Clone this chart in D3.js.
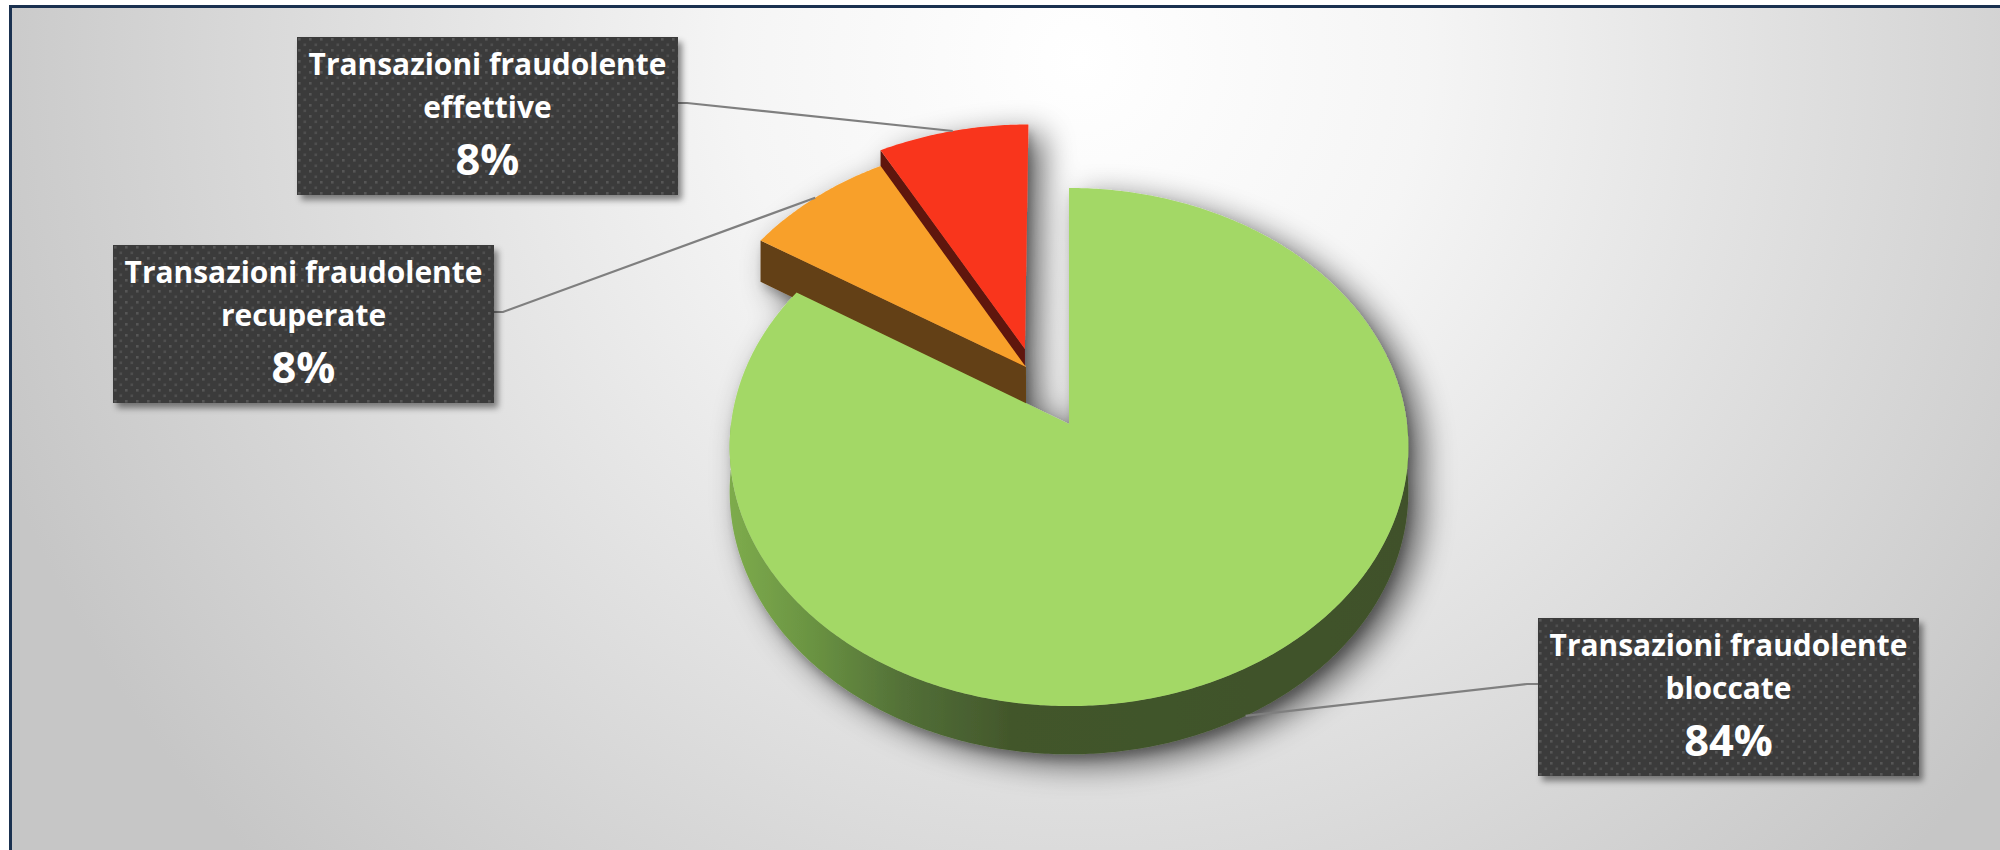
<!DOCTYPE html>
<html>
<head>
<meta charset="utf-8">
<script src="https://cdn.jsdelivr.net/npm/d3@7"></script>
<style>
  html, body { margin: 0; padding: 0; background: #ffffff; overflow: hidden; }
  #chart svg { display: block; }
</style>
</head>
<body>
<div id="chart"></div>
<script>
const width = 2000,
    height = 850;

// data
const categories = ["Transazioni fraudolente bloccate", "Transazioni fraudolente recuperate", "Transazioni fraudolente effettive"];
const values = [84, 8, 8];
const labelLines = [["Transazioni fraudolente", "bloccate"], ["Transazioni fraudolente", "recuperate"], ["Transazioni fraudolente", "effettive"]];
const percentLabels = ["84%", "8%", "8%"];

// style
const topColors = ["#a3d866", "#f8a02c", "#f9361c"];
const sideColors = ["url(#greenSide)", "#643f12", "#5e130b"];
// explosion offset of each slice, in pie-radius units (x right, y toward viewer)
const explode = [[0, 0], [-0.13, -0.226], [-0.134, -0.30]];
// where the leader line leaves the slice: 0 = top face rim, 1 = bottom of side
const leaderDepth = [1, 0, 0];
const boxes = [
    {x: 1538, y: 618, side: "left", ay: 684},
    {x: 113, y: 245, side: "right", ay: 312},
    {x: 297, y: 37, side: "right", ay: 103}
];
const boxW = 381, boxH = 158;
const labelFont = "'Open Sans', Lato, sans-serif";

// 3d pie projection
const cx = 1069, cy = 424, rx = 338, ry = 257, persp = 0.0888, depth = 44;

function proj(x, y, t) {
    const w = 1 - persp * y;
    return [cx + rx * x / w, cy + (ry * y + depth * t) / w];
}
function rimPoint(theta, e, t) {
    return proj(e[0] + Math.sin(theta), e[1] - Math.cos(theta), t);
}
function arcPoints(a0, a1, e, t) {
    const n = Math.max(2, Math.ceil(Math.abs(a1 - a0) / 0.01));
    return d3.range(n + 1).map(i => rimPoint(a0 + (a1 - a0) * i / n, e, t));
}

const svg = d3.select("#chart").append("svg")
    .attr("width", width)
    .attr("height", height);

const defs = svg.append("defs");

const bg = defs.append("radialGradient")
    .attr("id", "bgGrad")
    .attr("gradientUnits", "userSpaceOnUse")
    .attr("cx", 1080).attr("cy", 60).attr("r", 1150);
bg.append("stop").attr("offset", 0).attr("stop-color", "#ffffff");
bg.append("stop").attr("offset", 0.3).attr("stop-color", "#f5f5f5");
bg.append("stop").attr("offset", 1).attr("stop-color", "#c6c6c6");

const gs = defs.append("linearGradient")
    .attr("id", "greenSide")
    .attr("gradientUnits", "userSpaceOnUse")
    .attr("x1", cx - rx).attr("x2", cx + rx)
    .attr("y1", 0).attr("y2", 0);
[[0, "#7dab4c"], [0.12, "#6a9342"], [0.26, "#526f37"], [0.42, "#42562b"], [1, "#3f5129"]]
    .forEach(s => gs.append("stop").attr("offset", s[0]).attr("stop-color", s[1]));

const pat = defs.append("pattern")
    .attr("id", "dots")
    .attr("patternUnits", "userSpaceOnUse")
    .attr("width", 11).attr("height", 11);
pat.append("rect").attr("width", 11).attr("height", 11).attr("fill", "#3b3b3b");
pat.append("rect").attr("x", 1).attr("y", 1).attr("width", 2.6).attr("height", 2.6).attr("fill", "#575757");
pat.append("rect").attr("x", 6.5).attr("y", 6.5).attr("width", 2.6).attr("height", 2.6).attr("fill", "#4f4f4f");

const ps = defs.append("filter").attr("id", "pieShadow")
    .attr("x", "-20%").attr("y", "-20%").attr("width", "140%").attr("height", "140%");
ps.append("feGaussianBlur").attr("in", "SourceAlpha").attr("stdDeviation", 16).attr("result", "b1");
ps.append("feOffset").attr("in", "b1").attr("dx", 14).attr("dy", 10).attr("result", "o1");
ps.append("feComponentTransfer").attr("in", "o1").attr("result", "s1")
    .append("feFuncA").attr("type", "linear").attr("slope", 0.62);
ps.append("feGaussianBlur").attr("in", "SourceAlpha").attr("stdDeviation", 4).attr("result", "b2");
ps.append("feOffset").attr("in", "b2").attr("dx", 3).attr("dy", 6).attr("result", "o2");
ps.append("feComponentTransfer").attr("in", "o2").attr("result", "s2")
    .append("feFuncA").attr("type", "linear").attr("slope", 0.2);
const psm = ps.append("feMerge");
psm.append("feMergeNode").attr("in", "s1");
psm.append("feMergeNode").attr("in", "s2");
psm.append("feMergeNode").attr("in", "SourceGraphic");

const bs = defs.append("filter").attr("id", "boxShadow")
    .attr("x", "-10%").attr("y", "-10%").attr("width", "125%").attr("height", "130%");
bs.append("feDropShadow").attr("dx", 4).attr("dy", 5).attr("stdDeviation", 3)
    .attr("flood-color", "#000").attr("flood-opacity", 0.45);

// chart area
svg.append("rect")
    .attr("x", 10.5).attr("y", 6.5)
    .attr("width", width).attr("height", height)
    .attr("fill", "url(#bgGrad)")
    .attr("stroke", "#1a3150")
    .attr("stroke-width", 3);

const slices = d3.pie().sort(null).value(d => d)(values)
    .map((d, i) => ({...d, i: i, e: explode[i], mid: (d.startAngle + d.endAngle) / 2}));

// back to front
const order = slices.slice().sort((p, q) =>
    (p.e[1] - Math.cos(p.mid)) - (q.e[1] - Math.cos(q.mid)));

const line = d3.line();
const pieG = svg.append("g").attr("filter", "url(#pieShadow)");

order.forEach(s => {
    const g = pieG.append("g");
    const a0 = s.startAngle, a1 = s.endAngle;
    const apex0 = proj(s.e[0], s.e[1], 0), apex1 = proj(s.e[0], s.e[1], 1);

    // cut face at start angle
    if (Math.cos(a0 - Math.PI / 2) < -1e-6) {
        g.append("path")
            .attr("d", line([apex0, rimPoint(a0, s.e, 0), rimPoint(a0, s.e, 1), apex1]) + "Z")
            .attr("fill", sideColors[s.i]);
    }
    // cut face at end angle
    if (Math.cos(a1 + Math.PI / 2) < -1e-6) {
        g.append("path")
            .attr("d", line([apex0, rimPoint(a1, s.e, 0), rimPoint(a1, s.e, 1), apex1]) + "Z")
            .attr("fill", sideColors[s.i]);
    }
    // outer curved side, front half only
    const f0 = Math.max(a0, Math.PI / 2), f1 = Math.min(a1, 3 * Math.PI / 2);
    if (f1 > f0) {
        const pts = arcPoints(f0, f1, s.e, 0).concat(arcPoints(f1, f0, s.e, 1));
        g.append("path")
            .attr("d", line(pts) + "Z")
            .attr("fill", sideColors[s.i]);
    }
    // top face
    g.append("path")
        .attr("d", line([apex0].concat(arcPoints(a0, a1, s.e, 0))) + "Z")
        .attr("fill", topColors[s.i]);
});

// leader lines
slices.forEach(s => {
    const p0 = rimPoint(s.mid, s.e, leaderDepth[s.i]);
    const b = boxes[s.i];
    const bx = b.side === "left" ? b.x : b.x + boxW;
    const elbow = [b.side === "left" ? bx - 11 : bx + 9, b.ay];
    svg.append("path")
        .attr("d", line([p0, elbow, [bx, b.ay]]))
        .attr("fill", "none")
        .attr("stroke", "#7f7f7f")
        .attr("stroke-width", 2.2);
});

// size the label font so the first line spans ~358px, like the reference
const probe = svg.append("text")
    .style("font-family", labelFont).style("font-weight", "bold").style("font-size", "28px")
    .text(labelLines[0][0]);
const fs = 28 * 358 / probe.node().getComputedTextLength();
probe.remove();

// label boxes
slices.forEach(s => {
    const b = boxes[s.i];
    const g = svg.append("g").attr("transform", `translate(${b.x},${b.y})`);
    g.append("rect")
        .attr("width", boxW).attr("height", boxH)
        .attr("fill", "url(#dots)")
        .attr("filter", "url(#boxShadow)");
    const t = g.append("text")
        .attr("text-anchor", "middle")
        .attr("fill", "#ffffff")
        .style("font-family", labelFont)
        .style("font-weight", "bold");
    labelLines[s.i].forEach((l, j) => {
        t.append("tspan")
            .attr("x", boxW / 2)
            .attr("y", 38 + j * 43)
            .style("font-size", fs + "px")
            .text(l);
    });
    t.append("tspan")
        .attr("x", boxW / 2)
        .attr("y", 138)
        .style("font-size", (fs * 1.45) + "px")
        .text(percentLabels[s.i]);
});
</script>
</body>
</html>
